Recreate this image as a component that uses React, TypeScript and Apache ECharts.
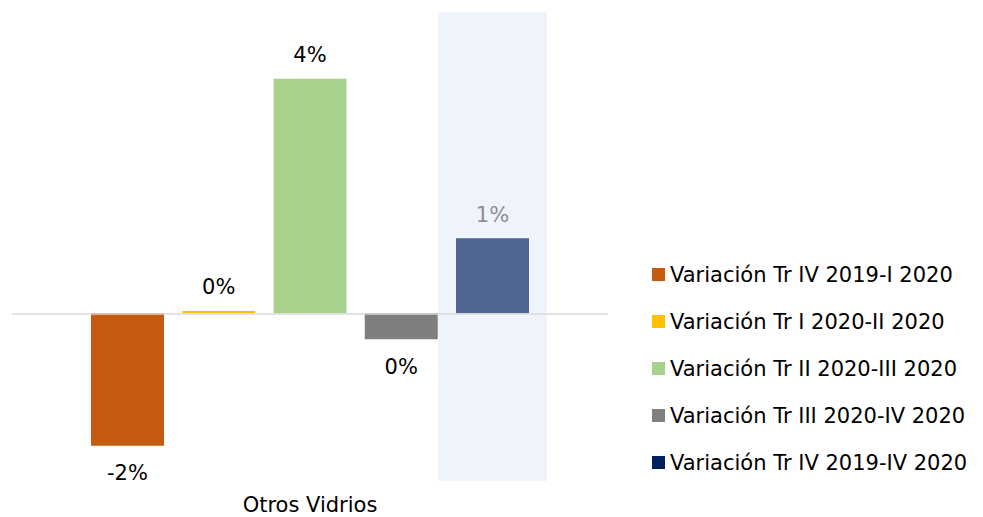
import React, { useEffect, useRef } from "react";
import * as echarts from "echarts";

const categories = ["Otros Vidrios"];
const seriesNames = [
  "Variación Tr IV 2019-I 2020",
  "Variación Tr I 2020-II 2020",
  "Variación Tr II 2020-III 2020",
  "Variación Tr III 2020-IV 2020",
  "Variación Tr IV 2019-IV 2020",
];
const seriesValues: number[][] = [[-2.26], [0.04], [4.0], [-0.44], [1.28]];
const barColors = ["#C55A11", "#FFC000", "#A9D18E", "#7F7F7F", "#4F6592"];
const legendColors = ["#C55A11", "#FFC000", "#A9D18E", "#7F7F7F", "#002060"];
const labelColors = ["#000000", "#000000", "#000000", "#000000", "#8A8D99"];
const yMin = -2.86;
const yMax = 5.14;

const FONT = "DejaVu Sans";

export default function App() {
  const ref = useRef<HTMLDivElement>(null);
  useEffect(() => {
    document.body.style.margin = "0";
    if (!ref.current) return;
    const chart = echarts.init(ref.current, null, { renderer: "svg" });
    const series: any[] = seriesNames.map((name, i) => ({
      name,
      type: "bar",
      data: seriesValues[i],
      barWidth: 73,
      barGap: "25%",
      itemStyle: { color: barColors[i] },
      label: {
        show: true,
        position: seriesValues[i][0] < 0 ? "bottom" : "top",
        distance: seriesValues[i][0] < 0 ? 17 : 13,
        fontFamily: FONT,
        fontSize: 21,
        color: labelColors[i],
        formatter: (p: any) => `${Math.round(p.value)}%`,
      },
      z: 3,
    }));
    series[0].markLine = {
      silent: true,
      symbol: "none",
      label: { show: false },
      lineStyle: { color: "#D9D9D9", width: 1.5, type: "solid" },
      data: [{ yAxis: 0 }],
    };
    chart.setOption({
      animation: false,
      grid: { left: 12, right: 375, top: 12, bottom: 36 },
      xAxis: {
        type: "category",
        data: categories,
        axisLine: { show: false },
        axisTick: { show: false },
        axisLabel: { fontFamily: FONT, fontSize: 21, color: "#000", margin: 13 },
      },
      yAxis: {
        type: "value",
        min: yMin,
        max: yMax,
        show: false,
        splitLine: { show: false },
      },
      legend: {
        orient: "vertical",
        left: 647,
        top: 259,
        itemWidth: 13,
        itemHeight: 13,
        itemGap: 26,
        icon: "rect",
        textStyle: { fontFamily: FONT, fontSize: 21, color: "#000", lineHeight: 21 },
        data: seriesNames.map((n, i) => ({ name: n, itemStyle: { color: legendColors[i] } })),
      },
      series,
    });
    try {
      const layout = (chart as any).getModel().getSeriesByIndex(4).getData().getItemLayout(0);
      const top = chart.convertToPixel({ yAxisIndex: 0 }, yMax) as number;
      const bottom = chart.convertToPixel({ yAxisIndex: 0 }, yMin) as number;
      const pad = 18;
      chart.setOption({
        graphic: [
          {
            type: "rect",
            z: 0,
            silent: true,
            shape: { x: layout.x - pad, y: top, width: layout.width + pad * 2, height: bottom - top },
            style: { fill: "#EFF3FB" },
          },
        ],
      });
    } catch (e) {
      // ignore
    }
    return () => chart.dispose();
  }, []);
  return <div ref={ref} style={{ width: 983, height: 517 }} />;
}
